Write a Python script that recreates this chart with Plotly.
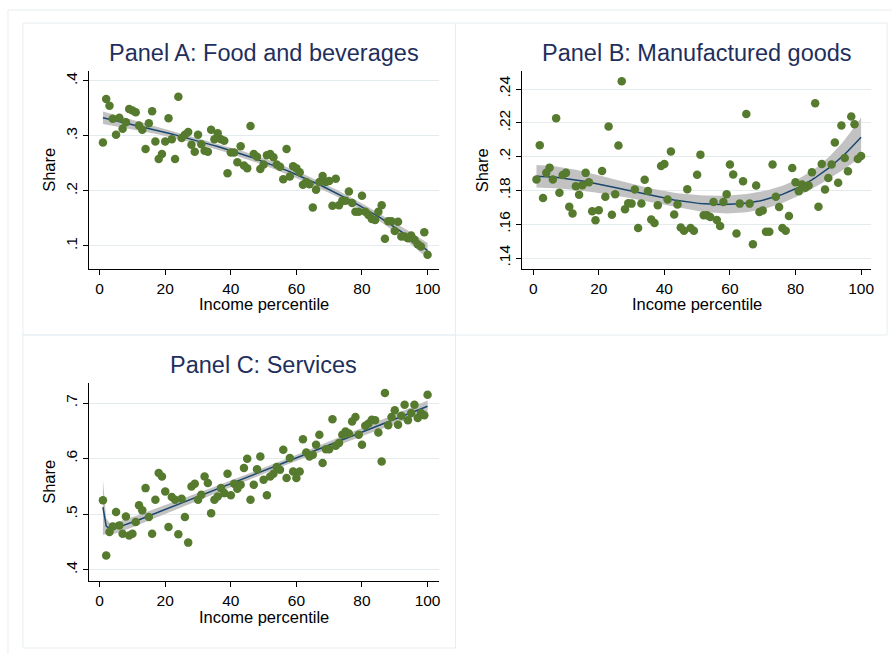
import numpy as np
import plotly.graph_objects as go

# Income percentiles (same grid for all three panels)
percentile = list(range(1, 101))

# Budget share of food and beverages by percentile
share_food = [
    0.288, 0.367, 0.355, 0.331, 0.302, 0.333, 0.313, 0.325, 0.349, 0.346,
    0.343, 0.319, 0.311, 0.276, 0.323, 0.345, 0.290, 0.258, 0.267, 0.290,
    0.332, 0.294, 0.258, 0.371, 0.296, 0.302, 0.307, 0.284, 0.271, 0.302,
    0.285, 0.273, 0.271, 0.311, 0.294, 0.305, 0.294, 0.291, 0.232, 0.270,
    0.270, 0.252, 0.281, 0.246, 0.241, 0.318, 0.267, 0.262, 0.240, 0.248,
    0.265, 0.267, 0.261, 0.248, 0.244, 0.221, 0.276, 0.226, 0.245, 0.241,
    0.234, 0.211, 0.216, 0.212, 0.170, 0.202, 0.216, 0.227, 0.216, 0.218,
    0.173, 0.222, 0.174, 0.182, 0.182, 0.199, 0.178, 0.162, 0.162, 0.191,
    0.162, 0.156, 0.149, 0.147, 0.162, 0.174, 0.113, 0.145, 0.145, 0.127,
    0.144, 0.117, 0.117, 0.114, 0.119, 0.111, 0.103, 0.099, 0.125, 0.084,
]

# Budget share of manufactured goods by percentile
share_goods = [
    0.1865, 0.2067, 0.1755, 0.1904, 0.1935, 0.1865, 0.2227, 0.1786, 0.1892, 0.1904,
    0.1703, 0.1664, 0.1825, 0.1774, 0.1831, 0.1904, 0.1849, 0.1677, 0.1624, 0.1683,
    0.1915, 0.1762, 0.2178, 0.1656, 0.1778, 0.2066, 0.2447, 0.1689, 0.1724, 0.1722,
    0.1805, 0.1578, 0.1723, 0.1863, 0.1797, 0.1628, 0.1607, 0.1713, 0.1945, 0.1957,
    0.1746, 0.2031, 0.1658, 0.1717, 0.1580, 0.1561, 0.1807, 0.1578, 0.1561, 0.1893,
    0.2012, 0.1653, 0.1653, 0.1643, 0.1731, 0.1625, 0.1590, 0.1731, 0.1778, 0.1953,
    0.1894, 0.1545, 0.1722, 0.1855, 0.2253, 0.1722, 0.1482, 0.1829, 0.1673, 0.1682,
    0.1555, 0.1555, 0.1953, 0.1763, 0.1702, 0.1578, 0.1561, 0.1649, 0.1933, 0.1849,
    0.1796, 0.1835, 0.1816, 0.1829, 0.1908, 0.2316, 0.1704, 0.1957, 0.1806, 0.1873,
    0.1953, 0.2084, 0.1845, 0.2184, 0.1992, 0.1914, 0.2237, 0.2192, 0.1986, 0.2004,
]

# Budget share of services by percentile
share_services = [
    0.525, 0.426, 0.468, 0.478, 0.504, 0.480, 0.465, 0.496, 0.462, 0.465,
    0.486, 0.516, 0.507, 0.547, 0.495, 0.465, 0.526, 0.574, 0.568, 0.541,
    0.477, 0.531, 0.526, 0.464, 0.528, 0.495, 0.449, 0.550, 0.555, 0.526,
    0.535, 0.568, 0.556, 0.502, 0.526, 0.532, 0.547, 0.538, 0.573, 0.534,
    0.555, 0.546, 0.553, 0.583, 0.600, 0.526, 0.553, 0.581, 0.604, 0.562,
    0.534, 0.568, 0.573, 0.585, 0.580, 0.616, 0.565, 0.601, 0.577, 0.565,
    0.577, 0.635, 0.611, 0.604, 0.607, 0.625, 0.643, 0.592, 0.617, 0.617,
    0.671, 0.623, 0.628, 0.643, 0.649, 0.645, 0.667, 0.675, 0.643, 0.625,
    0.659, 0.663, 0.670, 0.669, 0.647, 0.595, 0.718, 0.660, 0.675, 0.687,
    0.661, 0.677, 0.697, 0.669, 0.682, 0.697, 0.673, 0.682, 0.678, 0.715,
]

x_ticks = [0, 20, 40, 60, 80, 100]
y_ticks_food = [0.1, 0.2, 0.3, 0.4]
y_labels_food = [".1", ".2", ".3", ".4"]
y_ticks_goods = [0.14, 0.16, 0.18, 0.20, 0.22, 0.24]
y_labels_goods = [".14", ".16", ".18", ".2", ".22", ".24"]
y_ticks_services = [0.4, 0.5, 0.6, 0.7]
y_labels_services = [".4", ".5", ".6", ".7"]

titles = ["Panel A: Food and beverages", "Panel B: Manufactured goods", "Panel C: Services"]

# ---- fractional polynomial (degree 2) fit with 95% CI of the mean ----
FP_POWERS = [-2, -1, -0.5, 0, 0.5, 1, 2, 3]
T975 = 1.9847  # t(0.975, 97)


def fp_term(x, p):
    return np.log(x) if p == 0 else x ** p


def fp2_design(x, p1, p2):
    t1 = fp_term(x, p1)
    t2 = t1 * np.log(x) if p1 == p2 else fp_term(x, p2)
    return np.column_stack([np.ones_like(x), t1, t2])


def fp2_fit(xv, yv):
    x = np.asarray(xv, dtype=float)
    y = np.asarray(yv, dtype=float)
    best = None
    for i, p1 in enumerate(FP_POWERS):
        for p2 in FP_POWERS[i:]:
            X = fp2_design(x, p1, p2)
            q, _ = np.linalg.qr(X)
            fit = q @ (q.T @ y)
            rss = float(np.sum((y - fit) ** 2))
            if best is None or rss < best[0]:
                best = (rss, q, fit)
    rss, q, fit = best
    n, k = q.shape
    s2 = rss / (n - k)
    se = np.sqrt(s2 * np.sum(q ** 2, axis=1))
    return fit, fit - T975 * se, fit + T975 * se


W, H = 892, 654


def px(v):
    return v / W


def py(v):
    return 1 - v / H


FONT = "Liberation Sans, Arial, Helvetica, sans-serif"
DOT = "#567a2e"
FIT = "#1a476f"
BAND = "#c2c2c2"
GRID = "#e3ebee"
FRAME = "#e6eef1"
TITLE = "#1f2f5c"

panels = [
    dict(y=share_food, xdom=(89, 440), ydom=(71, 269), xr=(-3.34, 103.34),
         yr=(0.058, 0.418), yt=y_ticks_food, yl=y_labels_food, title_y=53, xt_y=304),
    dict(y=share_goods, xdom=(524, 874), ydom=(71, 269), xr=(-3.34, 103.04),
         yr=(0.1335, 0.2507), yt=y_ticks_goods, yl=y_labels_goods, title_y=53, xt_y=304),
    dict(y=share_services, xdom=(89, 440), ydom=(383, 581), xr=(-3.34, 103.34),
         yr=(0.380, 0.736), yt=y_ticks_services, yl=y_labels_services, title_y=365, xt_y=617),
]

fig = go.Figure()
annotations = []
layout_axes = {}

for i, (p, title) in enumerate(zip(panels, titles), start=1):
    xa = "x" if i == 1 else f"x{i}"
    ya = "y" if i == 1 else f"y{i}"
    fit, lo, hi = fp2_fit(percentile, p["y"])

    fig.add_trace(go.Scatter(x=percentile, y=lo, xaxis=xa, yaxis=ya, mode="lines",
                             line=dict(width=0, color=BAND), hoverinfo="skip",
                             showlegend=False))
    fig.add_trace(go.Scatter(x=percentile, y=hi, xaxis=xa, yaxis=ya, mode="lines",
                             line=dict(width=0, color=BAND), fill="tonexty",
                             fillcolor=BAND, hoverinfo="skip", showlegend=False))
    fig.add_trace(go.Scatter(x=percentile, y=fit, xaxis=xa, yaxis=ya, mode="lines",
                             line=dict(width=1.5, color=FIT), showlegend=False))
    fig.add_trace(go.Scatter(x=percentile, y=p["y"], xaxis=xa, yaxis=ya, mode="markers",
                             marker=dict(size=8.5, color=DOT), showlegend=False))

    xkey = "xaxis" if i == 1 else f"xaxis{i}"
    ykey = "yaxis" if i == 1 else f"yaxis{i}"
    layout_axes[xkey] = dict(
        domain=[px(p["xdom"][0]), px(p["xdom"][1])], range=list(p["xr"]),
        anchor=ya, tickvals=x_ticks, ticktext=[str(t) for t in x_ticks],
        showgrid=False, zeroline=False, showline=True, linecolor="black", linewidth=1,
        ticks="outside", ticklen=5, tickcolor="black", tickwidth=1,
        tickfont=dict(family=FONT, size=15.5, color="black"), fixedrange=True,
    )
    layout_axes[ykey] = dict(
        domain=[py(p["ydom"][1]), py(p["ydom"][0])], range=list(p["yr"]),
        anchor=xa, tickvals=p["yt"], ticktext=p["yl"], tickangle=-90,
        showgrid=True, gridcolor=GRID, gridwidth=1, zeroline=False,
        showline=True, linecolor="black", linewidth=1,
        ticks="outside", ticklen=5, tickcolor="black", tickwidth=1,
        tickfont=dict(family=FONT, size=15.5, color="black"), fixedrange=True,
    )

    cx = (p["xdom"][0] + p["xdom"][1]) / 2
    cy = (p["ydom"][0] + p["ydom"][1]) / 2
    annotations.append(dict(text=title, xref="paper", yref="paper", x=px(cx),
                            y=py(p["title_y"]), xanchor="center", yanchor="middle",
                            showarrow=False, font=dict(family=FONT, size=23.5, color=TITLE)))
    annotations.append(dict(text="Income percentile", xref="paper", yref="paper",
                            x=px(cx), y=py(p["xt_y"]), xanchor="center", yanchor="middle",
                            showarrow=False, font=dict(family=FONT, size=16.5, color="black")))
    annotations.append(dict(text="Share", xref="paper", yref="paper",
                            x=px(p["xdom"][0] - 40), y=py(cy), xanchor="center",
                            yanchor="middle", textangle=-90, showarrow=False,
                            font=dict(family=FONT, size=16.5, color="black")))

# light frames around the whole graph and each panel
frames = [(8, 10, 905, 665), (23, 23, 457, 335), (457, 23, 890, 335), (23, 335, 457, 648)]
shapes = [dict(type="rect", xref="paper", yref="paper", x0=px(a), x1=px(c),
               y0=py(d), y1=py(b), line=dict(color=FRAME, width=1), layer="below")
          for a, b, c, d in frames]

fig.update_layout(
    width=W, height=H, margin=dict(l=0, r=0, t=0, b=0),
    paper_bgcolor="white", plot_bgcolor="white",
    annotations=annotations, shapes=shapes, showlegend=False,
    **layout_axes,
)

fig.write_html("out.html")
